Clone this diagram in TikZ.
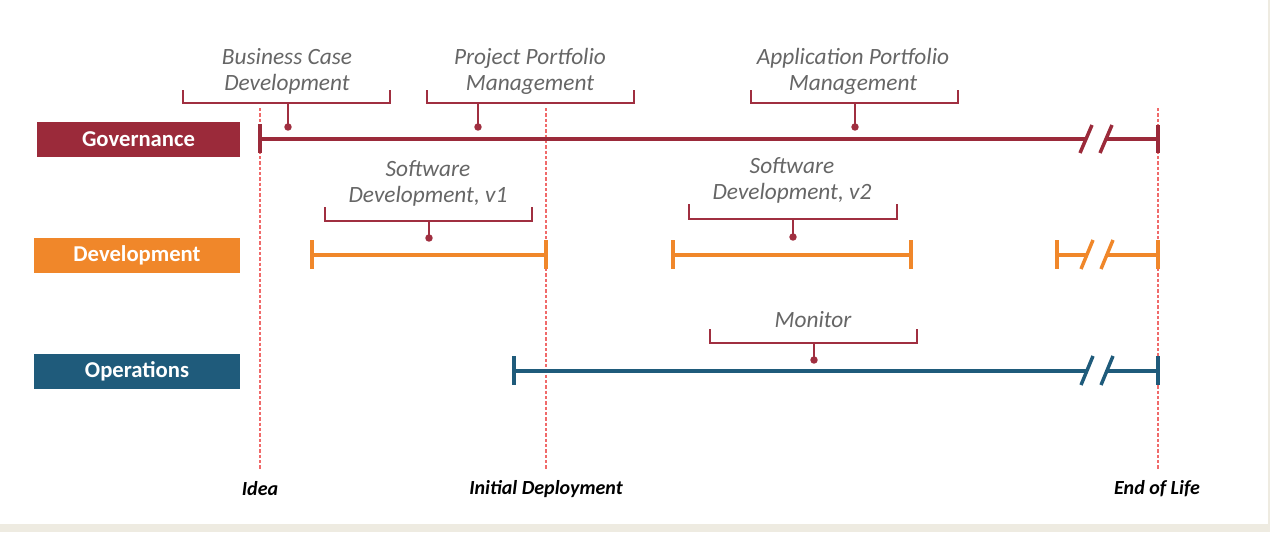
\documentclass[tikz,border=0pt]{standalone}
\usepackage{fontspec}
\setmainfont{Carlito}
\definecolor{govc}{HTML}{9B2A3A}
\definecolor{devc}{HTML}{F0872A}
\definecolor{opsc}{HTML}{1F5B7B}
\definecolor{brkc}{HTML}{A02F40}
\definecolor{guidec}{HTML}{F06A6A}
\definecolor{txtc}{HTML}{666666}
\definecolor{beige}{HTML}{EEEBE1}
\tikzset{
  lanebox/.style={inner sep=0pt, minimum height=26.25pt, text=white, font=\fontsize{17}{19}\selectfont\bfseries},
  lane/.style={line width=2.6pt},
  tick/.style={line width=2.6pt},
  bracketline/.style={draw=brkc, line width=1.9pt},
  phase/.style={align=center, text=txtc, font=\fontsize{17.5}{19.5}\selectfont\itshape, inner sep=0pt},
  guide/.style={draw=guidec, dashed, dash pattern=on 2.5pt off 1.5pt, line width=0.9pt},
  milestone/.style={font=\fontsize{15}{17}\selectfont\bfseries\itshape, inner sep=0pt}
}
\newcommand\phasebracket[6]{% x1 x2 ytop ybot xstem ydot
  \draw[bracketline] (#1,#3) -- (#1,#4) -- (#2,#4) -- (#2,#3);
  \draw[bracketline] (#5,#4) -- (#5,#6);
  \fill[brkc] (#5,#6) circle (2.8pt);
}
\begin{document}
\begin{tikzpicture}[x=0.75pt,y=-0.75pt]
\path[use as bounding box, fill=white] (0,0) rectangle (1270,532);
\fill[beige] (0,524) rectangle (1270,532);
\fill[beige] (1268,0) rectangle (1270,532);

% guides
\draw[guide] (260,108) -- (260,470);
\draw[guide] (546,108) -- (546,470);
\draw[guide] (1158,108) -- (1158,470);
\node[milestone] (idea) at (260,489) {Idea};
\node[milestone] (init) at (546,489) {Initial Deployment};
\node[milestone] (eol) at (1157,489) {End of Life};

% lane boxes
\node[lanebox, fill=govc, minimum width=152.25pt] (gov) at (138.5,139.5) {Governance};
\node[lanebox, fill=devc, minimum width=154.5pt] (dev) at (137,255.5) {Development};
\node[lanebox, fill=opsc, minimum width=154.5pt] (ops) at (137,371.5) {Operations};

% governance lane
\coordinate (g0) at (260,139);
\coordinate (g1) at (1086,139);
\coordinate (g2) at (1106,139);
\coordinate (g3) at (1158,139);
\draw[lane, govc] (g0) -- (g1);
\draw[lane, govc] (g2) -- (g3);
\draw[tick, govc] (260,124) -- (260,153);
\draw[tick, govc] (1158,125) -- (1158,153);
\draw[tick, govc] (1080,153) -- (1092,125);
\draw[tick, govc] (1100,153) -- (1112,125);

% development lane
\coordinate (d0) at (312,255);
\coordinate (d1) at (546,255);
\draw[lane, devc] (d0) -- (d1);
\draw[tick, devc] (312,240) -- (312,269);
\draw[tick, devc] (546,240) -- (546,269);
\coordinate (d2) at (673,255);
\coordinate (d3) at (911,255);
\draw[lane, devc] (d2) -- (d3);
\draw[tick, devc] (673,240) -- (673,269);
\draw[tick, devc] (911,240) -- (911,269);
\coordinate (d4) at (1057,255);
\coordinate (d5) at (1087,255);
\coordinate (d6) at (1107,255);
\coordinate (d7) at (1158,255);
\draw[lane, devc] (d4) -- (d5);
\draw[lane, devc] (d6) -- (d7);
\draw[tick, devc] (1057,240) -- (1057,269);
\draw[tick, devc] (1158,240) -- (1158,269);
\draw[tick, devc] (1081,269) -- (1093,240);
\draw[tick, devc] (1101,269) -- (1113,240);

% operations lane
\coordinate (o0) at (514,371);
\coordinate (o1) at (1087,371);
\coordinate (o2) at (1107,371);
\coordinate (o3) at (1158,371);
\draw[lane, opsc] (o0) -- (o1);
\draw[lane, opsc] (o2) -- (o3);
\draw[tick, opsc] (514,356) -- (514,385);
\draw[tick, opsc] (1158,356) -- (1158,385);
\draw[tick, opsc] (1081,385) -- (1093,356);
\draw[tick, opsc] (1101,385) -- (1113,356);

% phases
\node[phase] (bcd) at (287,71) {Business Case\\Development};
\phasebracket{183}{390}{90}{103}{288}{127}
\node[phase] (ppm) at (530,71) {Project Portfolio\\Management};
\phasebracket{427}{634}{90}{103}{478}{127}
\node[phase] (apm) at (853,71) {Application Portfolio\\Management};
\phasebracket{751}{958}{90}{103}{855}{127}
\node[phase] (sd1) at (428,183) {Software\\Development, v1};
\phasebracket{325}{532}{207}{221}{429}{238}
\node[phase] (sd2) at (792,180) {Software\\Development, v2};
\phasebracket{689}{897}{204}{219}{793}{237}
\node[phase] (mon) at (813,320) {Monitor};
\phasebracket{710}{917}{329}{343}{814}{360}
\end{tikzpicture}
\end{document}
